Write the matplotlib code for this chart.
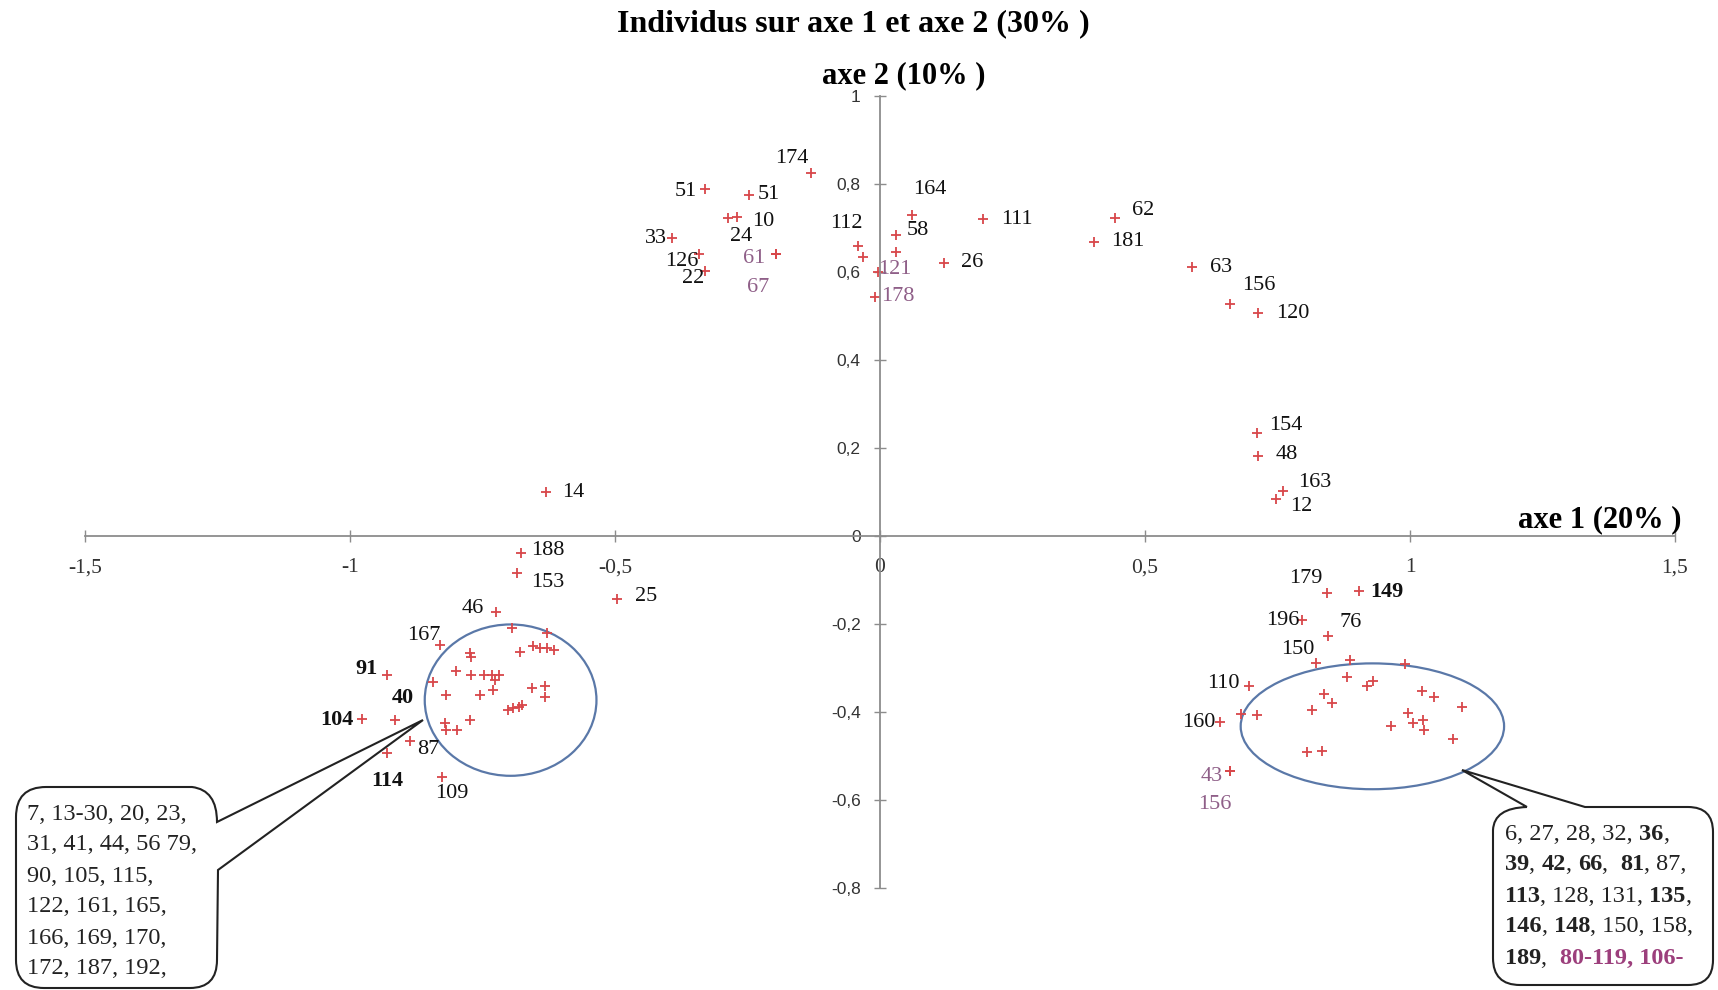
import matplotlib
matplotlib.use("Agg")
import matplotlib.pyplot as plt
import matplotlib.ticker as ticker
import matplotlib.transforms as mtransforms
from matplotlib.patches import Ellipse, PathPatch
from matplotlib.path import Path

W, H = 1718, 990
SERIF = ["Liberation Serif", "DejaVu Serif"]
SANS = ["Liberation Sans", "DejaVu Sans"]
RED = "#d8474a"
MAUVE = "#8f5f88"
GREY = "#8c8c8c"
LABEL_SIZE = 16

# ---------------------------------------------------------------------------
# Data: individuals projected on axis 1 / axis 2
# ---------------------------------------------------------------------------

# labelled individuals
lab_txt = ["174", "51", "51", "10", "24", "33", "126", "22", "61", "67",
           "112", "164", "58", "121", "178", "26", "111", "62", "181", "63",
           "156", "120", "154", "48", "163", "12", "14",
           "188", "153", "25", "46", "167", "91", "40", "104", "87", "114", "109",
           "179", "149", "196", "76", "150", "110", "160", "43", "156"]
lab_x = [-0.130, -0.330, -0.247, -0.270, -0.286, -0.393, -0.341, -0.330, -0.196, -0.196,
         -0.041, 0.060, 0.031, -0.003, -0.009, 0.121, 0.195, 0.443, 0.404, 0.589,
         0.660, 0.714, 0.711, 0.714, 0.760, 0.747, -0.631,
         -0.678, -0.684, -0.497, -0.725, -0.830, -0.930, -0.915, -0.977, -0.887, -0.930, -0.827,
         0.843, 0.904, 0.796, 0.846, 0.822, 0.697, 0.642, 0.660, 0.660]
lab_y = [0.826, 0.788, 0.774, 0.724, 0.723, 0.677, 0.642, 0.602, 0.641, 0.641,
         0.659, 0.730, 0.684, 0.600, 0.544, 0.621, 0.720, 0.722, 0.669, 0.611,
         0.527, 0.506, 0.233, 0.182, 0.102, 0.083, 0.100,
         -0.039, -0.085, -0.143, -0.173, -0.248, -0.316, -0.418, -0.417, -0.467, -0.494, -0.547,
         -0.130, -0.124, -0.192, -0.227, -0.288, -0.341, -0.423, -0.533, -0.533]
bold_labels = {"91", "40", "104", "114", "149"}
mauve_labels = {"61", "67", "121", "178", "43"}

# unlabelled individuals near the origin of the top group
extra_x = [-0.033, 0.031]
extra_y = [0.635, 0.645]

# group circled on the left
left_x = [-0.695, -0.629, -0.679, -0.654, -0.642, -0.629, -0.616, -0.774, -0.772, -0.800,
          -0.772, -0.748, -0.733, -0.718, -0.726, -0.843, -0.819, -0.755, -0.730, -0.657,
          -0.632, -0.632, -0.701, -0.692, -0.682, -0.676, -0.821, -0.819, -0.799, -0.774]
left_y = [-0.210, -0.221, -0.263, -0.250, -0.254, -0.255, -0.259, -0.267, -0.274, -0.306,
          -0.317, -0.317, -0.317, -0.317, -0.327, -0.331, -0.361, -0.361, -0.350, -0.346,
          -0.340, -0.365, -0.395, -0.392, -0.388, -0.384, -0.426, -0.442, -0.441, -0.418]

# group circled on the right
right_x = [0.886, 0.991, 0.882, 0.918, 0.931, 0.838, 0.852, 0.815, 0.681, 0.711,
           1.022, 1.045, 1.099, 0.997, 1.006, 1.025, 1.027, 0.965, 1.082, 0.805, 0.833]
right_y = [-0.282, -0.292, -0.320, -0.342, -0.330, -0.358, -0.380, -0.395, -0.405, -0.407,
           -0.352, -0.367, -0.388, -0.402, -0.426, -0.418, -0.441, -0.432, -0.462, -0.490, -0.489]

x_ticks = [-1.5, -1.0, -0.5, 0.0, 0.5, 1.0, 1.5]
y_ticks = [-0.8, -0.6, -0.4, -0.2, 0.0, 0.2, 0.4, 0.6, 0.8, 1.0]

left_group_lines = [
    "7, 13-30, 20, 23,",
    "31, 41, 44, 56 79,",
    "90, 105, 115,",
    "122, 161, 165,",
    "166, 169, 170,",
    "172, 187, 192,",
]
# (text, kind) with kind n = normal, b = bold, m = bold mauve
right_group_lines = [
    [("6, 27, 28, 32, ", "n"), ("36", "b"), (",", "n")],
    [("39", "b"), (", ", "n"), ("42", "b"), (", ", "n"), ("66", "b"), (",  ", "n"),
     ("81", "b"), (", 87,", "n")],
    [("113", "b"), (", 128, 131, ", "n"), ("135", "b"), (",", "n")],
    [("146", "b"), (", ", "n"), ("148", "b"), (", 150, 158,", "n")],
    [("189", "b"), (",  ", "n"), ("80-119, 106-", "m")],
]

# label offsets in pixels (dx right, dy up), same order as lab_txt
lab_off = [(-19, 14), (-19, -2), (20, 1), (26, -4), (13, -19), (-16, 0), (-17, -8), (-12, -7),
           (-22, -5), (-18, -34), (-12, 23), (18, 25), (21, 5), (16, 3), (23, 0), (28, 0),
           (34, 0), (28, 8), (34, 0), (29, 0), (29, 19), (34, 0), (29, 8), (28, 1), (32, 9),
           (25, -7), (28, 0),
           (27, 3), (30, -9), (30, 2), (-23, 4), (-16, 10), (-21, 6), (8, 22), (-25, -1),
           (18, -8), (0, -28), (10, -17),
           (-21, 15), (28, -1), (-19, 0), (22, 13), (-18, 13), (-26, 3), (-21, 0), (-18, -6),
           (-15, -34)]


def comma_fmt(v, _):
    s = f"{v:g}".replace(".", ",")
    return "0" if s in ("-0", "0") else s


fig = plt.figure(figsize=(W / 100, H / 100), dpi=100, facecolor="white")
ax = fig.add_axes([0, 0, 1, 1])
ax.set_xlim(-1.6604, 1.5811)
ax.set_ylim(-1.0318, 1.2182)

# axes crossing at the origin
for side in ("top", "right"):
    ax.spines[side].set_visible(False)
ax.spines["left"].set_position("zero")
ax.spines["bottom"].set_position("zero")
ax.spines["left"].set_bounds(-0.8, 1.0)
ax.spines["bottom"].set_bounds(-1.5, 1.5)
for side in ("left", "bottom"):
    ax.spines[side].set_color(GREY)
    ax.spines[side].set_linewidth(1.3)

ax.set_xticks(x_ticks)
ax.set_yticks(y_ticks)
ax.xaxis.set_major_formatter(ticker.FuncFormatter(comma_fmt))
ax.yaxis.set_major_formatter(ticker.FuncFormatter(comma_fmt))
ax.tick_params(axis="x", direction="inout", length=8, width=1, color=GREY, pad=12,
               labelsize=15.5, labelfontfamily=SERIF, labelcolor="#333333")
ax.tick_params(axis="y", direction="inout", length=8, width=1, color=GREY, pad=10,
               labelsize=12.5, labelfontfamily=SANS, labelcolor="#333333")

# individuals
ax.plot(left_x, left_y, ls="none", marker="+", ms=7, mew=1.3, color=RED)
ax.plot(right_x, right_y, ls="none", marker="+", ms=7, mew=1.3, color=RED)
ax.plot(extra_x, extra_y, ls="none", marker="+", ms=7, mew=1.3, color=RED)
ax.plot(lab_x, lab_y, ls="none", marker="+", ms=7, mew=1.3, color=RED)

for x, y, t, (dx, dy) in zip(lab_x, lab_y, lab_txt, lab_off):
    col = MAUVE if t in mauve_labels else "#111111"
    if t == "156" and y < 0:
        col = MAUVE
    ax.annotate(t, (x, y), xytext=(dx, dy), textcoords="offset pixels",
                ha="center", va="center", fontsize=LABEL_SIZE, family=SERIF, color=col,
                weight="bold" if t in bold_labels else "normal")

# circled groups
ax.add_patch(Ellipse((-0.697, -0.373), 2 * 0.162, 2 * 0.172, fill=False,
                     edgecolor="#5a78a8", lw=1.6))
ax.add_patch(Ellipse((0.929, -0.4325), 2 * 0.2485, 2 * 0.143, fill=False,
                     edgecolor="#5a78a8", lw=1.6))

# titles
fig.text(853 / W, 1 - 24 / H, "Individus sur axe 1 et axe 2 (30% )", ha="center",
         va="center", fontsize=23, weight="bold", family=SERIF)
fig.text(904 / W, 1 - 76 / H, "axe 2 (10% )", ha="center", va="center",
         fontsize=22, weight="bold", family=SERIF)
fig.text(1681 / W, 1 - 520 / H, "axe 1 (20% )", ha="right", va="center",
         fontsize=22, weight="bold", family=SERIF)

# ---------------------------------------------------------------------------
# Callout boxes (pixel coordinates, y downwards)
# ---------------------------------------------------------------------------
pix = mtransforms.Affine2D().scale(1 / W, -1 / H).translate(0, 1) + fig.transFigure


def rounded_path(pts):
    """pts: list of (x, y, kind) where kind 'L' = line to, 'C' = control point."""
    verts, codes = [], []
    for i, (x, y, k) in enumerate(pts):
        verts.append((x, y))
        if i == 0:
            codes.append(Path.MOVETO)
        elif k == "C":
            codes.append(Path.CURVE3)
        elif pts[i - 1][2] == "C":
            codes.append(Path.CURVE3)
        else:
            codes.append(Path.LINETO)
    verts.append(verts[0])
    codes.append(Path.CLOSEPOLY)
    return Path(verts, codes)


left_box = rounded_path([
    (16, 817, "L"), (16, 787, "C"), (46, 787, "L"), (192, 787, "L"), (217, 790, "C"),
    (217, 822, "L"), (423, 720, "L"), (218, 870, "L"), (217, 960, "L"), (217, 988, "C"),
    (190, 988, "L"), (44, 988, "L"), (16, 988, "C"), (16, 960, "L"),
])
right_box = rounded_path([
    (1527, 807, "L"), (1462, 770, "L"), (1585, 807, "L"), (1688, 807, "L"),
    (1713, 807, "C"), (1713, 832, "L"), (1713, 960, "L"), (1713, 985, "C"),
    (1688, 985, "L"), (1520, 985, "L"), (1493, 985, "C"), (1493, 958, "L"),
    (1493, 830, "L"), (1494, 808, "C"),
])
for p in (left_box, right_box):
    fig.patches.append(PathPatch(p, transform=pix, facecolor="white",
                                 edgecolor="#222222", lw=1.5))

renderer = fig.canvas.get_renderer()


def text_width(s, weight, size):
    t = fig.text(0, 0, "x" + s + "x", fontsize=size, family=SERIF, weight=weight)
    t2 = fig.text(0, 0, "xx", fontsize=size, family=SERIF, weight=weight)
    w = t.get_window_extent(renderer).width - t2.get_window_extent(renderer).width
    t.remove()
    t2.remove()
    return w


for i, line in enumerate(left_group_lines):
    fig.text(27 / W, 1 - (814 + 31 * i) / H, line, ha="left", va="center",
             fontsize=17.5, family=SERIF, color="#222222")

for i, line in enumerate(right_group_lines):
    xp = 1505
    for s, kind in line:
        weight = "normal" if kind == "n" else "bold"
        col = "#9c3f7c" if kind == "m" else "#222222"
        fig.text(xp / W, 1 - (834 + 31 * i) / H, s, ha="left", va="center",
                 fontsize=17.5, family=SERIF, weight=weight, color=col)
        xp += text_width(s, weight, 17.5)

fig.savefig("out.png", dpi=100, facecolor="white")
